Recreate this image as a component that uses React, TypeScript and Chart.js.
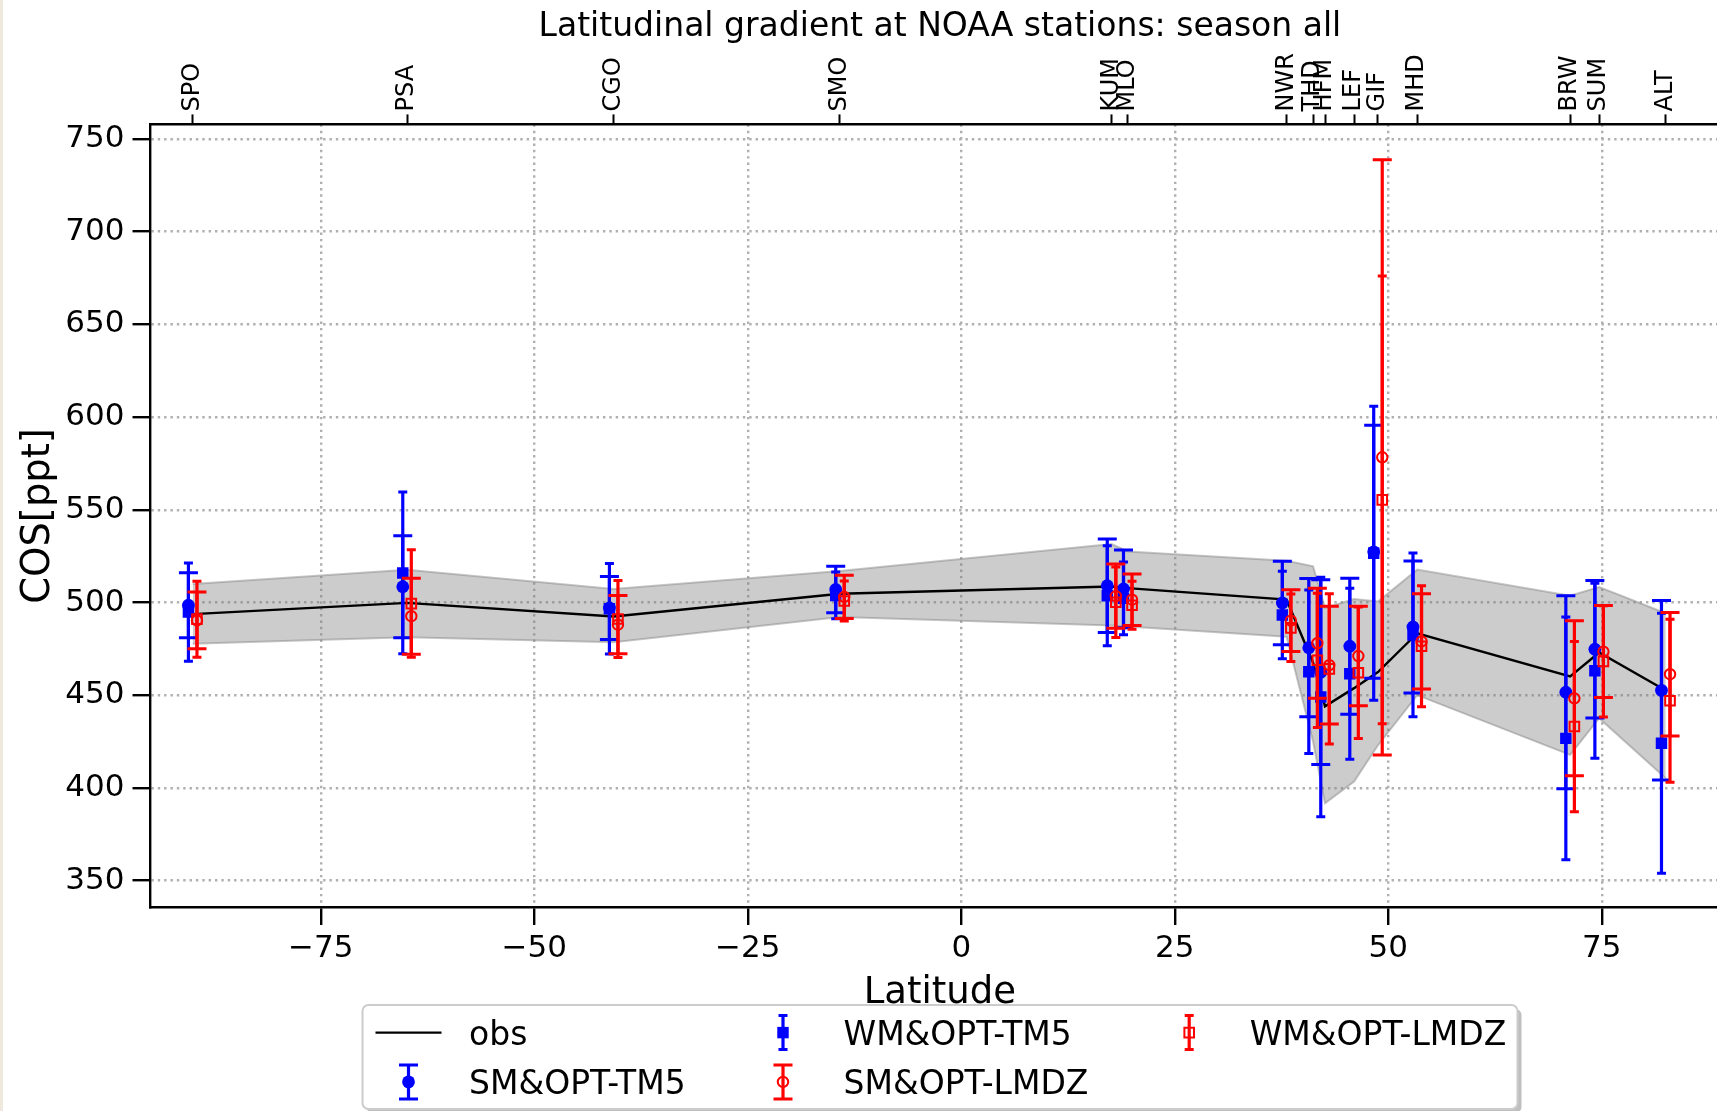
import React, { useEffect, useRef } from 'react';
import { Chart, registerables } from 'chart.js';

Chart.register(...registerables);

// ---------------- data ----------------
const STATIONS = ['SPO', 'PSA', 'CGO', 'SMO', 'KUM', 'MLO', 'NWR', 'THD', 'HFM', 'LEF', 'GIF', 'MHD', 'BRW', 'SUM', 'ALT'];
const LATITUDES = [-90.0, -64.9, -40.7, -14.2, 17.6, 19.5, 38.1, 41.2, 42.6, 46.0, 48.8, 53.4, 71.3, 74.7, 82.5];

const OBS = [493.7, 499.8, 492.4, 504.7, 508.6, 507.7, 501.5, 467.5, 444.0, 453.8, 462.5, 483.4, 460.1, 473.0, 452.5];
const OBS_LOW = [477.7, 481.3, 478.5, 492.2, 487.6, 487.0, 481.5, 425.0, 391.7, 403.4, 423.0, 450.0, 417.8, 437.6, 405.2];
const OBS_HIGH = [510.0, 517.6, 507.3, 517.0, 531.5, 527.5, 522.5, 519.5, 497.0, 501.8, 500.5, 517.7, 503.6, 508.3, 494.2];

const SM_TM5 = [498.5, 508.5, 497.0, 507.0, 509.0, 507.3, 499.7, 475.6, 462.4, 476.4, 527.3, 486.8, 451.6, 474.8, 452.6];
const SM_TM5_ERR = [17.5, 27.5, 17.0, 12.5, 25.2, 21.0, 22.5, 37.3, 49.8, 36.7, 68.2, 35.6, 52.0, 37.1, 48.4];

const WM_TM5 = [494.8, 515.9, 496.6, 503.8, 503.6, 502.2, 493.2, 462.6, 449.0, 461.6, 526.5, 482.5, 426.7, 463.2, 424.1];
const WM_TM5_ERR = [26.5, 43.6, 24.4, 12.6, 27.0, 19.6, 23.6, 44.1, 64.6, 46.1, 79.3, 44.2, 65.5, 47.2, 70.1];

const SM_LMDZ = [490.3, 492.6, 488.0, 503.0, 503.4, 501.5, 490.2, 478.0, 466.2, 471.1, 578.3, 479.0, 448.3, 473.5, 461.3];
const SM_LMDZ_ERR = [15.3, 20.5, 15.7, 11.7, 17.3, 13.9, 16.6, 29.6, 31.7, 26.8, 160.5, 25.7, 41.8, 24.8, 33.3];

const WM_LMDZ = [491.0, 499.4, 491.1, 500.8, 500.1, 498.5, 486.3, 468.8, 464.2, 462.1, 555.3, 476.4, 433.1, 468.2, 447.0];
const WM_LMDZ_ERR = [20.5, 29.0, 20.8, 10.8, 19.0, 12.9, 18.2, 36.2, 40.5, 35.4, 120.7, 32.6, 45.9, 30.0, 44.0];

const X_TICKS = [-75, -50, -25, 0, 25, 50, 75];
const Y_TICKS = [350, 400, 450, 500, 550, 600, 650, 700, 750];
const X_RANGE = [-95, 90];
const Y_RANGE = [335.5, 757.8];

const TITLE = 'Latitudinal gradient at NOAA stations: season all';

// ---------------- styles ----------------
const FONT = "'DejaVu Sans', sans-serif";
const BLUE = '#0000ff';
const RED = '#ff0000';
const TM5_SHIFT = -0.5;
const LMDZ_SHIFT = 0.5;
const CANVAS_W = 1800;
const CANVAS_H = 1111;
const STATION_FONT = 24;

type Series = {
  label: string;
  values: number[];
  errors: number[];
  color: string;
  shift: number;
  marker: 'circle' | 'rect';
  filled: boolean;
  capHalf: number;
  order: number;
};

const SERIES: Series[] = [
  { label: 'SM&OPT-TM5', values: SM_TM5, errors: SM_TM5_ERR, color: BLUE, shift: TM5_SHIFT, marker: 'circle', filled: true, capHalf: 9.5, order: 4 },
  { label: 'WM&OPT-TM5', values: WM_TM5, errors: WM_TM5_ERR, color: BLUE, shift: TM5_SHIFT, marker: 'rect', filled: true, capHalf: 4.5, order: 3 },
  { label: 'SM&OPT-LMDZ', values: SM_LMDZ, errors: SM_LMDZ_ERR, color: RED, shift: LMDZ_SHIFT, marker: 'circle', filled: false, capHalf: 9.5, order: 2 },
  { label: 'WM&OPT-LMDZ', values: WM_LMDZ, errors: WM_LMDZ_ERR, color: RED, shift: LMDZ_SHIFT, marker: 'rect', filled: false, capHalf: 4.5, order: 1 },
];

function markerRadius(s: Series) {
  if (s.marker === 'circle') return s.filled ? 6.4 : 5.2;
  return s.filled ? 8.1 : 6.8;
}

function fmtTick(v: number) {
  return v < 0 ? '\u2212' + Math.abs(v) : String(v);
}

function drawMarker(ctx: CanvasRenderingContext2D, s: Series, x: number, y: number) {
  const r = markerRadius(s);
  ctx.save();
  ctx.beginPath();
  if (s.marker === 'circle') {
    ctx.arc(x, y, r, 0, Math.PI * 2);
  } else {
    const h = r * Math.SQRT1_2;
    ctx.rect(x - h, y - h, 2 * h, 2 * h);
  }
  if (s.filled) {
    ctx.fillStyle = s.color;
    ctx.fill();
  } else {
    ctx.strokeStyle = s.color;
    ctx.lineWidth = 2;
    ctx.stroke();
  }
  ctx.restore();
}

function drawErrorBar(ctx: CanvasRenderingContext2D, color: string, capHalf: number, x: number, yLo: number, yHi: number) {
  ctx.save();
  ctx.strokeStyle = color;
  ctx.lineWidth = 3.2;
  ctx.lineCap = 'butt';
  ctx.beginPath();
  ctx.moveTo(x, yLo);
  ctx.lineTo(x, yHi);
  ctx.stroke();
  ctx.lineWidth = 3;
  ctx.beginPath();
  ctx.moveTo(x - capHalf, yLo);
  ctx.lineTo(x + capHalf, yLo);
  ctx.moveTo(x - capHalf, yHi);
  ctx.lineTo(x + capHalf, yHi);
  ctx.stroke();
  ctx.restore();
}

const errorBarPlugin = {
  id: 'errorBars',
  beforeDatasetDraw(chart: any, args: any) {
    const ds = chart.data.datasets[args.index];
    const s = SERIES.find((q) => q.label === ds.label);
    if (!s) return;
    const xs = chart.scales.x;
    const ys = chart.scales.y;
    const ctx = chart.ctx;
    ds.data.forEach((p: any, i: number) => {
      const px = xs.getPixelForValue(p.x);
      const lo = ys.getPixelForValue(p.y - s.errors[i]);
      const hi = ys.getPixelForValue(p.y + s.errors[i]);
      drawErrorBar(ctx, s.color, s.capHalf, px, lo, hi);
    });
  },
};

const decorPlugin = {
  id: 'decor',
  afterDraw(chart: any) {
    const ctx: CanvasRenderingContext2D = chart.ctx;
    const area = chart.chartArea;
    // title
    ctx.save();
    ctx.fillStyle = '#000';
    ctx.font = `33px ${FONT}`;
    ctx.textAlign = 'center';
    ctx.textBaseline = 'alphabetic';
    ctx.fillText(TITLE, (area.left + area.right) / 2, 36);
    ctx.restore();

    // legend
    const bx = 362.5, by = 1005, bw = 1155, bh = 104, rad = 6;
    const rr = (x: number, y: number, w: number, h: number) => {
      ctx.beginPath();
      ctx.moveTo(x + rad, y);
      ctx.lineTo(x + w - rad, y);
      ctx.arcTo(x + w, y, x + w, y + rad, rad);
      ctx.lineTo(x + w, y + h - rad);
      ctx.arcTo(x + w, y + h, x + w - rad, y + h, rad);
      ctx.lineTo(x + rad, y + h);
      ctx.arcTo(x, y + h, x, y + h - rad, rad);
      ctx.lineTo(x, y + rad);
      ctx.arcTo(x, y, x + rad, y, rad);
      ctx.closePath();
    };
    ctx.save();
    rr(bx + 4, by + 4, bw, bh);
    ctx.fillStyle = 'rgba(0,0,0,0.25)';
    ctx.fill();
    rr(bx, by, bw, bh);
    ctx.fillStyle = '#ffffff';
    ctx.fill();
    ctx.strokeStyle = '#cccccc';
    ctx.lineWidth = 2;
    ctx.stroke();
    ctx.restore();

    const rows = [1032.6, 1081.9];
    const cols = [408.5, 783, 1189.2];
    const textGap = 60.5;
    const textDy = 3.5;
    const entries: { kind: 'line' | 'err'; label: string; col: number; row: number; s?: Series }[] = [
      { kind: 'line', label: 'obs', col: 0, row: 0 },
      { kind: 'err', label: SERIES[0].label, col: 0, row: 1, s: SERIES[0] },
      { kind: 'err', label: SERIES[1].label, col: 1, row: 0, s: SERIES[1] },
      { kind: 'err', label: SERIES[2].label, col: 1, row: 1, s: SERIES[2] },
      { kind: 'err', label: SERIES[3].label, col: 2, row: 0, s: SERIES[3] },
    ];
    entries.forEach((e) => {
      const cx = cols[e.col];
      const cy = rows[e.row];
      if (e.kind === 'line') {
        ctx.save();
        ctx.strokeStyle = '#000';
        ctx.lineWidth = 2.4;
        ctx.beginPath();
        ctx.moveTo(cx - 33, cy);
        ctx.lineTo(cx + 33, cy);
        ctx.stroke();
        ctx.restore();
      } else if (e.s) {
        drawErrorBar(ctx, e.s.color, e.s.capHalf, cx, cy + 17, cy - 17);
        drawMarker(ctx, e.s, cx, cy);
      }
      ctx.save();
      ctx.fillStyle = '#000';
      ctx.font = `33px ${FONT}`;
      ctx.textAlign = 'left';
      ctx.textBaseline = 'middle';
      ctx.fillText(e.label, cx + textGap, cy + textDy);
      ctx.restore();
    });
  },
};

function buildConfig(): any {
  const markerSets = SERIES.map((s) => ({
    type: 'scatter',
    label: s.label,
    data: LATITUDES.map((lat, i) => ({ x: lat + s.shift, y: s.values[i] })),
    pointStyle: s.marker,
    pointRadius: markerRadius(s),
    pointBackgroundColor: s.filled ? s.color : 'rgba(0,0,0,0)',
    pointBorderColor: s.color,
    pointBorderWidth: s.filled ? 0 : 2,
    showLine: false,
    order: s.order,
    xAxisID: 'x',
    yAxisID: 'y',
  }));

  const band = 'rgba(128,128,128,0.4)';
  const bandEdge = 'rgba(128,128,128,0.45)';

  return {
    type: 'scatter',
    data: {
      datasets: [
        {
          type: 'line',
          label: 'obs-high',
          data: LATITUDES.map((x, i) => ({ x, y: OBS_HIGH[i] })),
          borderColor: bandEdge,
          borderWidth: 2,
          backgroundColor: band,
          pointRadius: 0,
          fill: '+1',
          tension: 0,
          order: 12,
        },
        {
          type: 'line',
          label: 'obs-low',
          data: LATITUDES.map((x, i) => ({ x, y: OBS_LOW[i] })),
          borderColor: bandEdge,
          borderWidth: 2,
          pointRadius: 0,
          fill: false,
          tension: 0,
          order: 11,
        },
        {
          type: 'line',
          label: 'obs',
          data: LATITUDES.map((x, i) => ({ x, y: OBS[i] })),
          borderColor: '#000000',
          borderWidth: 2.4,
          pointRadius: 0,
          fill: false,
          tension: 0,
          order: 10,
        },
        ...markerSets,
      ],
    },
    options: {
      responsive: false,
      animation: false,
      devicePixelRatio: 1,
      layout: { padding: { left: 0, right: CANVAS_W - 1729.8, top: 0, bottom: 0 } },
      plugins: {
        legend: { display: false },
        title: { display: false },
        tooltip: { enabled: false },
      },
      scales: {
        x: {
          type: 'linear',
          position: 'bottom',
          min: X_RANGE[0],
          max: X_RANGE[1],
          afterBuildTicks: (s: any) => {
            s.ticks = X_TICKS.map((v) => ({ value: v }));
          },
          afterFit: (s: any) => {
            s.height = CANVAS_H - 907.5;
          },
          ticks: {
            font: { size: 31, family: FONT },
            color: '#000',
            padding: 5.5,
            autoSkip: false,
            maxRotation: 0,
            minRotation: 0,
            callback: (v: number) => fmtTick(v),
          },
          grid: {
            color: '#b0b0b0',
            lineWidth: 2.4,
            tickLength: 17.5,
            tickColor: '#000',
            tickWidth: 2.4,
            tickBorderDash: [],
          },
          border: { display: true, color: '#000', width: 2.4, dash: [2.4, 3.96] },
          title: {
            display: true,
            text: 'Latitude',
            color: '#000',
            font: { size: 37, family: FONT },
            padding: { top: 0, bottom: 95.4 },
          },
        },
        xTop: {
          type: 'linear',
          position: 'top',
          min: X_RANGE[0],
          max: X_RANGE[1],
          afterBuildTicks: (s: any) => {
            s.ticks = LATITUDES.map((v) => ({ value: v }));
          },
          afterFit: (s: any) => {
            s.height = 124.4;
          },
          ticks: {
            font: { size: STATION_FONT, family: FONT },
            color: '#000',
            padding: 3,
            autoSkip: false,
            minRotation: 90,
            maxRotation: 90,
            labelOffset: STATION_FONT * 1.2,
            callback: (_v: number, i: number) => STATIONS[i],
          },
          grid: {
            drawOnChartArea: false,
            tickLength: 10,
            tickColor: '#000',
            tickWidth: 2,
            color: '#000',
          },
          border: { display: true, color: '#000', width: 2.4 },
        },
        y: {
          type: 'linear',
          position: 'left',
          min: Y_RANGE[0],
          max: Y_RANGE[1],
          afterBuildTicks: (s: any) => {
            s.ticks = Y_TICKS.map((v) => ({ value: v }));
          },
          afterFit: (s: any) => {
            s.width = 150;
          },
          ticks: {
            font: { size: 31, family: FONT },
            color: '#000',
            padding: 8,
            callback: (v: number) => fmtTick(v),
          },
          grid: {
            color: '#b0b0b0',
            lineWidth: 2.4,
            tickLength: 17.5,
            tickColor: '#000',
            tickWidth: 2.4,
            tickBorderDash: [],
          },
          border: { display: true, color: '#000', width: 2.4, dash: [2.4, 3.96] },
          title: {
            display: true,
            text: 'COS[ppt]',
            color: '#000',
            font: { size: 38.5, family: FONT },
            padding: { top: 16.2, bottom: 0 },
          },
        },
      },
    },
    plugins: [errorBarPlugin, decorPlugin],
  };
}

export default function App() {
  const ref = useRef<HTMLCanvasElement | null>(null);
  useEffect(() => {
    Chart.defaults.font.family = FONT;
    Chart.defaults.color = '#000';
    const chart = new Chart(ref.current as HTMLCanvasElement, buildConfig());
    return () => chart.destroy();
  }, []);
  return (
    <div style={{ position: 'fixed', left: 0, top: 0, width: 1717, height: 1111, overflow: 'hidden', background: '#ffffff' }}>
      <canvas
        ref={ref}
        width={CANVAS_W}
        height={CANVAS_H}
        style={{ position: 'absolute', left: 0, top: 0, width: CANVAS_W, height: CANVAS_H }}
      />
      <div style={{ position: 'absolute', left: 0, top: 0, width: 3, height: 1111, background: '#efe9dd' }} />
    </div>
  );
}
